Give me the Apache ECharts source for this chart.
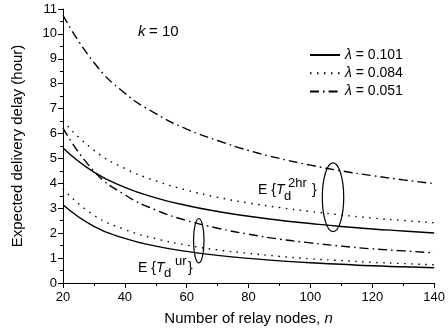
<!DOCTYPE html>
<html><head><meta charset="utf-8">
<script src="https://cdn.jsdelivr.net/npm/echarts@6/dist/echarts.min.js"></script>
<style>html,body{margin:0;padding:0;background:#fff}#c{width:448px;height:336px}</style>
</head><body><div id="c"></div>
<script>
// relay nodes n
const nodes = [20, 30, 40, 50, 60, 70, 80, 90, 100, 110, 120, 130, 140];
// E{T_d^2hr}
const hr101 = [5.42, 4.45, 3.84, 3.42, 3.11, 2.87, 2.68, 2.52, 2.39, 2.27, 2.17, 2.09, 2.01];
const hr084 = [6.50, 5.33, 4.60, 4.10, 3.73, 3.44, 3.21, 3.03, 2.87, 2.73, 2.61, 2.51, 2.42];
const hr051 = [10.75, 8.85, 7.62, 6.80, 6.18, 5.72, 5.32, 5.00, 4.73, 4.50, 4.31, 4.14, 3.99];
// E{T_d^ur}
const ur101 = [3.14, 2.27, 1.79, 1.48, 1.27, 1.11, 0.99, 0.89, 0.81, 0.75, 0.69, 0.65, 0.61];
const ur084 = [3.77, 2.72, 2.15, 1.78, 1.52, 1.33, 1.19, 1.07, 0.97, 0.90, 0.83, 0.78, 0.73];
const ur051 = [6.22, 4.49, 3.54, 2.93, 2.51, 2.20, 1.96, 1.76, 1.61, 1.48, 1.37, 1.29, 1.21];
const legendNames = ['λ = 0.101', 'λ = 0.084', 'λ = 0.051'];
// annotation ellipses in data units: [n, top value, bottom value, half-width in n]
const ellipses = [[107.3, 4.82, 2.06, 3.46], [63.9, 2.59, 0.81, 1.7]];

const FONT = '"Liberation Sans", Arial, sans-serif';
const styles = {
  '0.101': {type: 'solid'},
  '0.084': {type: [1.5, 5.5]},
  '0.051': {type: [9, 4, 1.6, 4]}
};
function mk(name, ys) {
  const key = name.slice(4);
  return {
    type: 'line', name: name, smooth: true, showSymbol: false, symbol: 'circle',
    data: nodes.map((n, i) => [n, ys[i]]),
    lineStyle: Object.assign({color: '#000', width: 1.4}, styles[key]),
    itemStyle: {color: '#000'}, silent: true
  };
}
const chart = echarts.init(document.getElementById('c'), null, {renderer: 'canvas'});
const option = {
  animation: false,
  backgroundColor: '#fff',
  grid: {left: 63, right: 10, top: 9, bottom: 53},
  legend: {
    data: legendNames, orient: 'vertical', left: 304, top: 43,
    itemWidth: 30, itemHeight: 14, itemGap: 4.3, itemStyle: {opacity: 0},
    formatter: n => '{i|λ}' + n.slice(1),
    textStyle: {fontFamily: FONT, fontSize: 14, color: '#000',
      rich: {i: {fontFamily: FONT, fontSize: 14, fontStyle: 'italic', color: '#000'}}}
  },
  xAxis: {
    type: 'value', min: 20, max: 140, interval: 20,
    name: 'Number of relay nodes, {i|n}', nameLocation: 'middle', nameGap: 28,
    nameTextStyle: {fontFamily: FONT, fontSize: 15, color: '#000',
      rich: {i: {fontFamily: FONT, fontSize: 15, fontStyle: 'italic', color: '#000'}}},
    axisLine: {show: true, lineStyle: {color: '#000', width: 1}},
    axisTick: {show: true, inside: false, length: 5, lineStyle: {color: '#000'}},
    minorTick: {show: true, splitNumber: 2, length: 3, lineStyle: {color: '#000'}},
    axisLabel: {fontFamily: FONT, fontSize: 13, color: '#000', margin: 8},
    splitLine: {show: false}
  },
  yAxis: {
    type: 'value', min: 0, max: 11, interval: 1,
    name: 'Expected delivery delay (hour)', nameLocation: 'middle', nameGap: 38,
    nameTextStyle: {fontFamily: FONT, fontSize: 15, color: '#000'},
    axisLine: {show: true, lineStyle: {color: '#000', width: 1}},
    axisTick: {show: true, inside: false, length: 5, lineStyle: {color: '#000'}},
    minorTick: {show: true, splitNumber: 2, length: 3, lineStyle: {color: '#000'}},
    axisLabel: {fontFamily: FONT, fontSize: 13, color: '#000', margin: 6},
    splitLine: {show: false}
  },
  series: [
    mk(legendNames[0], hr101), mk(legendNames[1], hr084), mk(legendNames[2], hr051),
    mk(legendNames[0], ur101), mk(legendNames[1], ur084), mk(legendNames[2], ur051)
  ]
};
chart.setOption(option);

function txt(text, x, y, size, italic) {
  return {type: 'text', silent: true, style: {text: text, x: x, y: y, fill: '#000',
    font: (italic ? 'italic ' : '') + size + 'px ' + FONT, verticalAlign: 'middle', align: 'left'}};
}
const ell = ellipses.map(([n, vt, vb, dn]) => {
  const t = chart.convertToPixel({gridIndex: 0}, [n, vt]);
  const b = chart.convertToPixel({gridIndex: 0}, [n, vb]);
  const s = chart.convertToPixel({gridIndex: 0}, [n + dn, vt]);
  return {type: 'ellipse', silent: true,
    shape: {cx: t[0], cy: (t[1] + b[1]) / 2, rx: s[0] - t[0], ry: (b[1] - t[1]) / 2},
    style: {fill: 'none', stroke: '#000', lineWidth: 1.2}};
});
const labels = [
  txt('k', 138, 32, 15, true), txt('= 10', 149, 32, 15, false),
  txt('E {', 258, 190.5, 14, false), txt('T', 276, 190.5, 14, true),
  txt('d', 284, 196, 13, false), txt('2hr', 288, 183, 13, false), txt('}', 312, 190.5, 14, false),
  txt('E {', 138, 268.5, 14, false), txt('T', 156, 268.5, 14, true),
  txt('d', 164, 273, 13, false), txt('ur', 175, 261, 13, false), txt('}', 188, 268.5, 14, false)
];
chart.setOption({graphic: ell.concat(labels)});
</script></body></html>
